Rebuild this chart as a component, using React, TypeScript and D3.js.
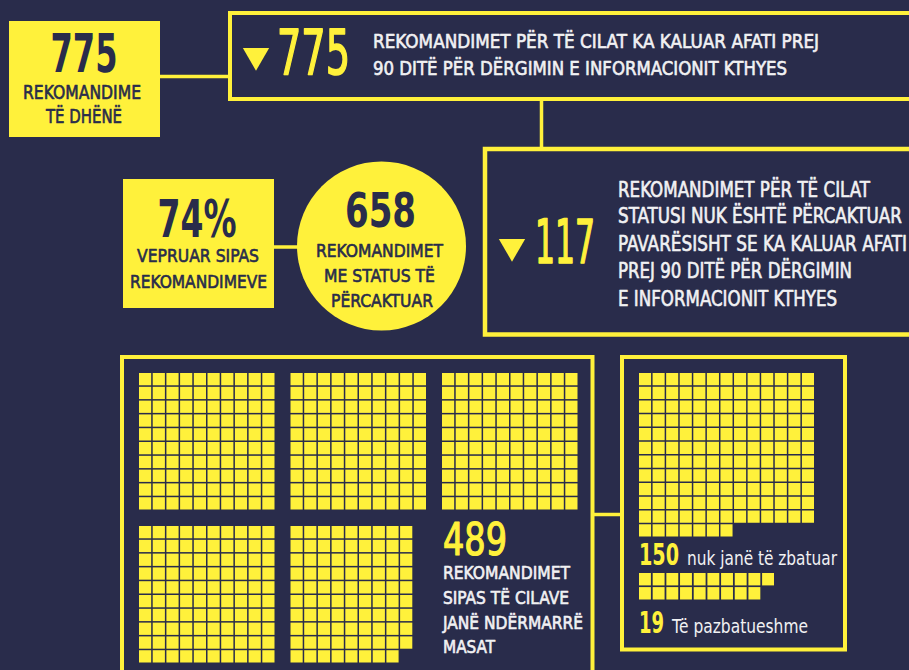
import React from 'react';
import * as d3 from 'd3';

// headline numbers
const totalGiven = 775;
const overdue = 775;
const withStatus = 658;
const withoutStatus = 117;
const actedPct = 74;

// waffle counts
const measuresTaken = 489;
const notImplemented = 150;
const notImplementable = 19;

// 489 is drawn as blocks of 100, last block 9 wide
const blockSizes = [100, 100, 100, 100, 89];
const blockCols = [10, 10, 10, 10, 9];

const BG = '#292c4b';
const YEL = '#fff13b';
const TXT = '#f1f1f3';
const FONT = "'Liberation Sans Narrow', 'DejaVu Sans Condensed', Roboto, sans-serif";

type T = { x: number; y: number; s: string; size: number; w: number; fill: string; weight?: number; thick?: number; anchor?: string };

// thick: a thin outline in the same colour, to get a medium weight
const Txt = ({ x, y, s, size, w, fill, weight = 400, thick = 0.6, anchor = 'start' }: T) => (
  <text x={x} y={y} fontSize={size} fill={fill} fontWeight={weight} textAnchor={anchor}
    stroke={thick ? fill : 'none'} strokeWidth={thick} strokeLinejoin="round"
    textLength={w} lengthAdjust="spacingAndGlyphs" fontFamily={FONT}>{s}</text>
);

const cellsFor = (n: number, cols: number) => d3.range(n).map(i => ({ c: i % cols, r: Math.floor(i / cols) }));

const App = () => {
  const W = 909, H = 670;

  // big waffle: blocks on a 3-wide grid
  const blockX = d3.scaleLinear().domain([0, 1]).range([139, 290.5]);
  const blockY = d3.scaleLinear().domain([0, 1]).range([373, 526]);
  const inX = d3.scaleBand<number>().domain(d3.range(10)).range([0, 135.5]).paddingInner(0.11);
  const inY = d3.scaleBand<number>().domain(d3.range(10)).range([0, 136.5]).paddingInner(0.11);

  const blocks = blockSizes.map((n, b) => ({ b, cells: cellsFor(n, blockCols[b]) }));

  // right waffle 150: 13 columns
  const rX = d3.scaleBand<number>().domain(d3.range(13)).range([639, 814]).paddingInner(0.11);
  const rY = d3.scaleBand<number>().domain(d3.range(12)).range([373, 536.5]).paddingInner(0.11);
  const cells150 = cellsFor(notImplemented, 13);

  // 19: 10 per row
  const sX = d3.scaleBand<number>().domain(d3.range(10)).range([639, 774]).paddingInner(0.13);
  const sY = d3.scaleBand<number>().domain(d3.range(2)).range([573, 599.5]).paddingInner(0.12);
  const cells19 = cellsFor(notImplementable, 10);

  const tri = d3.symbol().type(d3.symbolTriangle).size(300)();

  return (
    <svg width={W} height={H} style={{ position: 'absolute', left: 0, top: 0, background: BG }}>
      <rect x={0} y={0} width={W} height={H} fill={BG} />

      {/* connectors */}
      <line x1={160} x2={230} y1={76.5} y2={76.5} stroke={YEL} strokeWidth={3.5} />
      <line x1={541.5} x2={541.5} y1={99} y2={149} stroke={YEL} strokeWidth={3.5} />
      <line x1={274} x2={300} y1={247} y2={247} stroke={YEL} strokeWidth={3.5} />
      <line x1={592.5} x2={622} y1={514.5} y2={514.5} stroke={YEL} strokeWidth={3.5} />

      {/* box 1 */}
      <rect x={9} y={21} width={151} height={116} fill={YEL} />
      <Txt x={84} y={72} s={String(totalGiven)} size={54} w={67} fill={BG} weight={700} thick={0} anchor="middle" />
      <Txt x={82} y={99} s="REKOMANDIME" size={19} w={118} fill={BG} anchor="middle" />
      <Txt x={84} y={123} s="TË DHËNË" size={19} w={76} fill={BG} anchor="middle" />

      {/* box 2 */}
      <rect x={230} y={13} width={700} height={86} fill="none" stroke={YEL} strokeWidth={4} />
      <path d={tri} transform="translate(256,55.5) rotate(180)" fill={YEL} />
      <Txt x={277} y={74} s={String(overdue)} size={62} w={73} fill={YEL} thick={1.6} />
      <Txt x={373} y={48} s="REKOMANDIMET PËR TË CILAT KA KALUAR AFATI PREJ" size={20} w={446} fill={TXT} />
      <Txt x={373} y={75} s="90 DITË PËR DËRGIMIN E INFORMACIONIT KTHYES" size={20} w={414} fill={TXT} />

      {/* box 3 */}
      <rect x={485} y={149} width={450} height={185.5} fill="none" stroke={YEL} strokeWidth={4.5} />
      <path d={tri} transform="translate(512,246.5) rotate(180)" fill={YEL} />
      <Txt x={535} y={263} s={String(withoutStatus)} size={60} w={60} fill={YEL} thick={1.6} />
      <Txt x={618} y={197} s="REKOMANDIMET PËR TË CILAT" size={21} w={252} fill={TXT} />
      <Txt x={618} y={223} s="STATUSI NUK ËSHTË PËRCAKTUAR" size={21} w={284} fill={TXT} />
      <Txt x={618} y={251} s="PAVARËSISHT SE KA KALUAR AFATI" size={21} w={289} fill={TXT} />
      <Txt x={618} y={278} s="PREJ 90 DITË PËR DËRGIMIN" size={21} w={234} fill={TXT} />
      <Txt x={618} y={306} s="E INFORMACIONIT KTHYES" size={21} w={219} fill={TXT} />

      {/* 74% box */}
      <rect x={123} y={179} width={151} height={129} fill={YEL} />
      <Txt x={197} y={237} s={`${actedPct}%`} size={52} w={79} fill={BG} weight={700} thick={0} anchor="middle" />
      <Txt x={198} y={262} s="VEPRUAR SIPAS" size={18} w={122} fill={BG} anchor="middle" />
      <Txt x={198.5} y={288} s="REKOMANDIMEVE" size={18} w={137} fill={BG} anchor="middle" />

      {/* circle */}
      <circle cx={381.5} cy={246} r={84.5} fill={YEL} />
      <Txt x={380.5} y={227} s={String(withStatus)} size={48} w={71} fill={BG} weight={700} thick={0} anchor="middle" />
      <Txt x={379.5} y={257} s="REKOMANDIMET" size={18} w={127} fill={BG} anchor="middle" />
      <Txt x={379.5} y={282} s="ME STATUS TË" size={18} w={111} fill={BG} anchor="middle" />
      <Txt x={382} y={307} s="PËRCAKTUAR" size={18} w={102} fill={BG} anchor="middle" />

      {/* bottom-left box with 489 waffle */}
      <rect x={122} y={357} width={470.5} height={340} fill="none" stroke={YEL} strokeWidth={4} />
      {blocks.map(({ b, cells }) => (
        <g key={b} transform={`translate(${blockX(b % 3)},${blockY(Math.floor(b / 3))})`}>
          {cells.map((d, i) => (
            <rect key={i} x={inX(d.c)} y={inY(d.r)} width={inX.bandwidth()} height={inY.bandwidth()} fill={YEL} />
          ))}
        </g>
      ))}
      <Txt x={443} y={555} s={String(measuresTaken)} size={44} w={64} fill={YEL} thick={1.2} />
      <Txt x={443} y={579} s="REKOMANDIMET" size={18} w={127} fill={TXT} />
      <Txt x={443} y={604} s="SIPAS TË CILAVE" size={18} w={126} fill={TXT} />
      <Txt x={443} y={629} s="JANË NDËRMARRË" size={18} w={140} fill={TXT} />
      <Txt x={443} y={653} s="MASAT" size={18} w={52} fill={TXT} />

      {/* right box */}
      <rect x={622} y={357} width={223} height={292.5} fill="none" stroke={YEL} strokeWidth={4} />
      {cells150.map((d, i) => (
        <rect key={`a${i}`} x={rX(d.c)} y={rY(d.r)} width={rX.bandwidth()} height={rY.bandwidth()} fill={YEL} />
      ))}
      <Txt x={639} y={565} s={String(notImplemented)} size={30} w={40} fill={YEL} weight={700} thick={0} />
      <Txt x={687} y={565} s="nuk janë të zbatuar" size={20} w={150} fill={TXT} thick={0} />
      {cells19.map((d, i) => (
        <rect key={`b${i}`} x={sX(d.c)} y={sY(d.r)} width={sX.bandwidth()} height={sY.bandwidth()} fill={YEL} />
      ))}
      <Txt x={639} y={633} s={String(notImplementable)} size={30} w={25} fill={YEL} weight={700} thick={0} />
      <Txt x={672} y={633} s="Të pazbatueshme" size={20} w={136} fill={TXT} thick={0} />
    </svg>
  );
};

export default App;
